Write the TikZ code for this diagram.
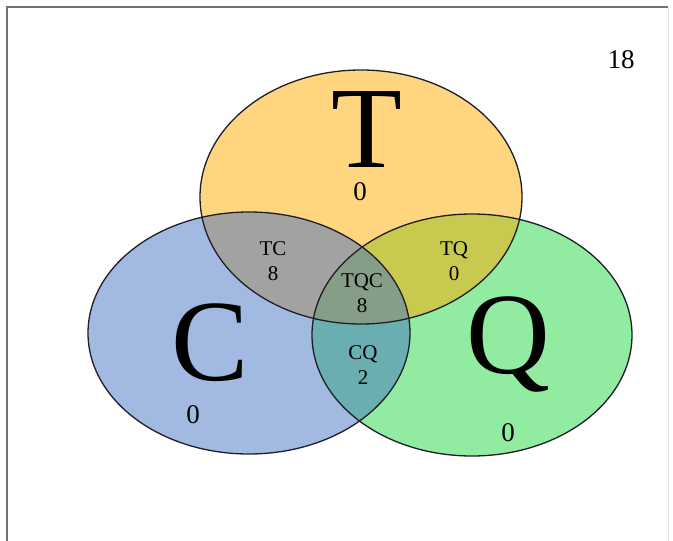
\documentclass[tikz,border=0pt]{standalone}
\usepackage{fontspec}
\setmainfont{Liberation Serif}
\definecolor{tbase}{RGB}{255,171,0}
\definecolor{cbase}{RGB}{69,115,195}
\definecolor{qbase}{RGB}{35,215,65}
\definecolor{edge}{RGB}{30,30,40}
\definecolor{framegray}{RGB}{115,115,115}
\definecolor{framelight}{RGB}{230,230,230}
\tikzset{
  setfill/.style={fill opacity=0.5},
  setedge/.style={draw=edge, line width=1.3pt},
  big/.style={font=\fontsize{116}{116}\selectfont, inner sep=0pt, text depth=0pt, text height=78pt, anchor=base},
  num/.style={font=\fontsize{27}{27}\selectfont, inner sep=0pt},
  lbl/.style={font=\fontsize{21}{25}\selectfont, align=center, inner sep=0pt},
}
\begin{document}
\begin{tikzpicture}[x=1pt,y=-1pt]
\useasboundingbox (0,0) rectangle (673,541);
% frame
\coordinate (f1) at (7,545);
\coordinate (f2) at (7,7);
\coordinate (f3) at (668,7);
\coordinate (f4) at (668,545);
\draw[framegray, line width=2.4pt] (f1) -- (f2) -- (f3);
\draw[framelight, line width=1pt] (f3) -- (f4);
% set centres
\coordinate (cT) at (361,197);
\coordinate (cC) at (249,333);
\coordinate (cQ) at (472,335);
% fills
\fill[qbase, setfill] (cQ) ellipse [x radius=160pt, y radius=121pt];
\fill[tbase, setfill] (cT) ellipse [x radius=161pt, y radius=127pt];
\fill[cbase, setfill] (cC) ellipse [x radius=161pt, y radius=121pt];
% outlines
\draw[setedge] (cQ) ellipse [x radius=160pt, y radius=121pt];
\draw[setedge] (cT) ellipse [x radius=161pt, y radius=127pt];
\draw[setedge] (cC) ellipse [x radius=161pt, y radius=121pt];
% big letters
\node[big] (T) at (367,167) {T};
\node[big] (C) at (210,380) {C};
\node[big] (Q) at (508,373) {Q};
% numbers
\node[num] (n18) at (621,60) {18};
\node[num] (nT) at (360,192) {0};
\node[num] (nC) at (193,415) {0};
\node[num] (nQ) at (508,433) {0};
% overlaps
\node[lbl] (TC) at (273,261) {TC\\8};
\node[lbl] (TQ) at (454,261) {TQ\\0};
\node[lbl] (TQC) at (362,293) {TQC\\8};
\node[lbl] (CQ) at (363,365) {CQ\\2};
\end{tikzpicture}
\end{document}
